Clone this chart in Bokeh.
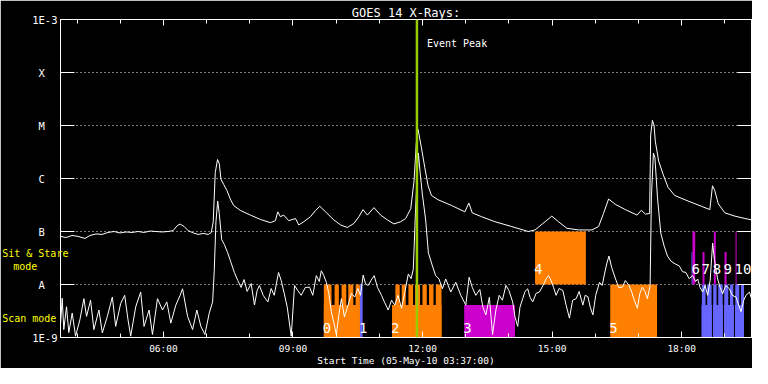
from bokeh.plotting import figure
from bokeh.models import LogAxis, LinearAxis, FixedTicker, Span, Range1d
from bokeh.core.properties import value
from bokeh.embed import file_html
from bokeh.resources import INLINE

# ---------------- data (time in decimal hours UT, 05-May-2010; flux in W/m^2) ----------------
long_time = [3.617, 3.742, 3.882, 4.020, 4.182, 4.298, 4.438, 4.577, 4.717, 4.855, 4.995, 5.135,
             5.273, 5.413, 5.552, 5.692, 5.830, 5.970, 6.108, 6.225, 6.318, 6.387, 6.480, 6.573,
             6.690, 6.805, 6.922, 7.038, 7.108, 7.153, 7.200, 7.253, 7.293, 7.332, 7.393, 7.472,
             7.548, 7.625, 7.780, 8.013, 8.245, 8.477, 8.593, 8.647, 8.708, 8.785, 8.902, 9.057,
             9.133, 9.250, 9.405, 9.522, 9.622, 9.753, 9.947, 10.102, 10.257, 10.410, 10.527, 10.620,
             10.722, 10.875, 11.030, 11.187, 11.338, 11.495, 11.610, 11.727, 11.803, 11.855, 11.897, 11.975,
             12.052, 12.128, 12.207, 12.360, 12.672, 12.980, 13.073, 13.150, 13.368, 13.677, 14.065, 14.448,
             14.605, 14.837, 14.993, 15.147, 15.342, 15.610, 15.922, 16.075, 16.190, 16.307, 16.462, 16.695,
             16.967, 17.067, 17.158, 17.258, 17.282, 17.322, 17.360, 17.390, 17.467, 17.570, 17.685, 17.838,
             18.150, 18.458, 18.652, 18.713, 18.767, 18.847, 19.000, 19.232, 19.463, 19.633]
long_flux = [8.1e-8, 7.7e-8, 8.4e-8, 8.1e-8, 7.4e-8, 8.4e-8, 9.0e-8, 8.8e-8, 9.6e-8, 1.0e-7, 9.4e-8, 9.8e-8,
             9.6e-8, 1.0e-7, 9.6e-8, 1.02e-7, 1.0e-7, 9.8e-8, 1.0e-7, 1.04e-7, 1.29e-7, 1.38e-7, 1.24e-7, 1.04e-7,
             9.4e-8, 8.8e-8, 9.2e-8, 8.8e-8, 9.6e-8, 1.53e-7, 1.29e-6, 2.28e-6, 1.9e-6, 9.7e-7, 7.8e-7, 5.9e-7,
             4.1e-7, 3.1e-7, 2.5e-7, 2.04e-7, 1.69e-7, 1.47e-7, 1.6e-7, 2.35e-7, 1.9e-7, 2.04e-7, 1.6e-7, 1.76e-7,
             1.33e-7, 1.53e-7, 1.9e-7, 2.5e-7, 2.99e-7, 2.35e-7, 1.65e-7, 1.33e-7, 1.19e-7, 1.42e-7, 1.9e-7, 2.59e-7,
             2.04e-7, 2.82e-7, 2.04e-7, 1.65e-7, 1.39e-7, 1.53e-7, 1.76e-7, 2.7e-7, 9.0e-7, 4.64e-6, 8.4e-6, 3.75e-6,
             1.6e-6, 7.3e-7, 4.78e-7, 3.97e-7, 3.1e-7, 2.35e-7, 3.44e-7, 2.25e-7, 1.9e-7, 1.53e-7, 1.24e-7, 1.0e-7,
             1.07e-7, 1.53e-7, 1.95e-7, 1.53e-7, 1.15e-7, 1.07e-7, 1.07e-7, 1.24e-7, 2.18e-7, 4.1e-7, 3.26e-7, 2.59e-7,
             2.04e-7, 2.52e-7, 2.13e-7, 2.18e-7, 6.6e-6, 1.25e-5, 1.0e-5, 5.0e-6, 2.13e-6, 1.2e-6, 6.8e-7, 4.78e-7,
             3.75e-7, 2.99e-7, 2.59e-7, 7.3e-7, 5.9e-7, 3.34e-7, 2.25e-7, 1.95e-7, 1.76e-7, 1.65e-7]

short_time = [3.617, 3.656, 3.693, 3.756, 3.809, 3.888, 3.965, 4.065, 4.158, 4.220, 4.313, 4.390,
              4.506, 4.585, 4.701, 4.817, 4.894, 5.010, 5.103, 5.180, 5.242, 5.358, 5.474, 5.551,
              5.667, 5.746, 5.862, 5.979, 6.078, 6.171, 6.287, 6.387, 6.443, 6.559, 6.675, 6.774,
              6.867, 6.960, 7.060, 7.139, 7.177, 7.216, 7.256, 7.293, 7.349, 7.409, 7.488, 7.565,
              7.642, 7.721, 7.799, 7.868, 7.938, 8.031, 8.108, 8.170, 8.223, 8.309, 8.418, 8.495,
              8.565, 8.665, 8.727, 8.797, 8.866, 8.959, 9.036, 9.110, 9.191, 9.284, 9.384, 9.458,
              9.540, 9.609, 9.656, 9.714, 9.772, 9.830, 9.888, 9.946, 10.004, 10.062, 10.120, 10.190,
              10.276, 10.353, 10.429, 10.504, 10.562, 10.625, 10.678, 10.741, 10.806, 10.880, 10.957, 11.050,
              11.119, 11.205, 11.282, 11.358, 11.433, 11.514, 11.584, 11.670, 11.735, 11.786, 11.840, 11.903,
              11.944, 11.995, 12.072, 12.135, 12.228, 12.304, 12.381, 12.460, 12.537, 12.653, 12.769, 12.885,
              13.001, 13.078, 13.152, 13.233, 13.326, 13.396, 13.466, 13.547, 13.621, 13.698, 13.775, 13.849,
              13.931, 14.000, 14.086, 14.140, 14.203, 14.256, 14.319, 14.372, 14.435, 14.488, 14.551, 14.628,
              14.704, 14.790, 14.860, 14.918, 14.976, 15.034, 15.092, 15.162, 15.248, 15.324, 15.401, 15.475,
              15.557, 15.626, 15.712, 15.766, 15.828, 15.882, 15.944, 16.009, 16.098, 16.160, 16.213, 16.264,
              16.316, 16.381, 16.469, 16.544, 16.625, 16.695, 16.781, 16.846, 16.904, 16.974, 17.032, 17.090,
              17.148, 17.206, 17.269, 17.299, 17.346, 17.381, 17.439, 17.516, 17.595, 17.672, 17.748, 17.846,
              17.944, 18.020, 18.097, 18.172, 18.253, 18.323, 18.369, 18.427, 18.485, 18.543, 18.601, 18.659,
              18.717, 18.757, 18.799, 18.833, 18.891, 18.949, 19.019, 19.105, 19.170, 19.258, 19.321, 19.374,
              19.437, 19.490, 19.569, 19.617]
short_flux = [1.74e-9, 5.5e-9, 1.41e-9, 3.8e-9, 1.24e-9, 2.9e-9, 1.06e-9, 2.15e-9, 5.4e-9, 2.5e-9, 5.05e-9, 1.41e-9,
              3.3e-9, 1.22e-9, 2.5e-9, 5.8e-9, 1.62e-9, 4.4e-9, 6.25e-9, 2.15e-9, 1.06e-9, 3.8e-9, 7.2e-9, 1.62e-9,
              3.3e-9, 1.14e-9, 5.4e-9, 3.3e-9, 4.7e-9, 1.87e-9, 4.08e-9, 6.25e-9, 8.3e-9, 2.5e-9, 1.41e-9, 3.3e-9,
              1.62e-9, 1.14e-9, 2.87e-9, 4.7e-9, 1.82e-8, 1.53e-7, 3.75e-7, 2.18e-7, 7.0e-8, 5.7e-8, 3.97e-8, 2.59e-8,
              1.69e-8, 1.19e-8, 8.8e-9, 1.24e-8, 7.4e-9, 1.04e-8, 4.1e-9, 7.7e-9, 9.6e-9, 6.25e-9, 4.7e-9, 8.4e-9,
              6.25e-9, 1.69e-8, 1.19e-8, 6.8e-9, 3.75e-9, 1.06e-9, 9.6e-9, 7.7e-9, 6.25e-9, 8.8e-9, 8.9e-9, 6.25e-9,
              1.47e-8, 1.14e-8, 1.82e-8, 1.47e-8, 1.1e-8, 6.8e-9, 3.07e-9, 1.9e-9, 1.14e-9, 2.67e-9, 5.4e-9, 2.45e-9,
              4.08e-9, 6.8e-9, 5.8e-9, 8.4e-9, 6.25e-9, 1.51e-8, 1.04e-8, 9.6e-9, 1.19e-8, 1.47e-8, 8.8e-9, 6.25e-9,
              4.64e-9, 3.3e-9, 5.05e-9, 4.08e-9, 6.25e-9, 3.55e-9, 6.8e-9, 1.58e-8, 1.29e-8, 1.95e-8, 2.9e-7, 3.03e-6,
              1.29e-6, 5.1e-7, 1.65e-7, 3.97e-8, 2.25e-8, 1.47e-8, 1.27e-8, 8.3e-9, 1.27e-8, 7.2e-9, 1.1e-8, 6.25e-9,
              4.08e-9, 1.37e-8, 8.8e-9, 6.25e-9, 8.07e-9, 3.75e-9, 2.67e-9, 5.74e-9, 1.14e-9, 3.3e-9, 6.25e-9, 5.05e-9,
              9.6e-9, 7.7e-9, 4.7e-9, 2.45e-9, 1.62e-9, 3.75e-9, 5.4e-9, 7.4e-9, 8.3e-9, 5.74e-9, 4.7e-9, 6.8e-9,
              7.2e-9, 9.6e-9, 1.27e-8, 1.47e-8, 1.19e-8, 8.8e-9, 6.25e-9, 8.4e-9, 7.7e-9, 4.08e-9, 2.32e-9, 5.05e-9,
              5.4e-9, 7.4e-9, 4.08e-9, 6.25e-9, 5.9e-9, 3.75e-9, 2.67e-9, 6.25e-9, 1.1e-8, 9.6e-9, 1.58e-8, 2.45e-8,
              3.44e-8, 2.07e-8, 1.27e-8, 8.8e-9, 8.9e-9, 1.19e-8, 9.6e-9, 7.1e-9, 5.05e-9, 3.55e-9, 6.8e-9, 8.9e-9,
              7.4e-9, 5.4e-9, 9.6e-9, 4.45e-7, 3.03e-6, 2.45e-6, 4.45e-7, 9.3e-8, 5.27e-8, 3.44e-8, 2.78e-8, 2.45e-8,
              2.25e-8, 1.74e-8, 1.69e-8, 1.29e-8, 1.47e-8, 1.14e-8, 1.27e-8, 8.8e-9, 7.2e-9, 9.6e-9, 6.25e-9, 1.19e-8,
              6.05e-8, 2.99e-8, 1.82e-8, 1.27e-8, 8.8e-9, 6.7e-9, 9.6e-9, 8.3e-9, 6.25e-9, 5.8e-9, 4.08e-9, 3.07e-9,
              5.05e-9, 6.25e-9, 7.2e-9, 5.4e-9]

event_peak = 11.87  # 11:52 UT

# observation blocks (kind: O = orange raster, M = magenta, B = blue)
scan_base_left = [9.714, 11.293, 12.964, 16.346, 18.460, 18.723, 18.979, 19.234]
scan_base_right = [10.550, 12.439, 14.141, 17.430, 18.700, 18.956, 19.211, 19.443]
scan_base_top = [4.1e-9, 4.1e-9, 4.1e-9, 1e-8, 4.1e-9, 4.1e-9, 4.1e-9, 4.1e-9]
scan_base_kind = ["O", "O", "M", "O", "B", "B", "B", "B"]

tooth_left = [9.714, 9.963, 10.125, 10.280, 10.450, 10.550,
              11.371, 11.518, 11.673, 11.826, 11.998, 12.151, 12.307,
              18.467, 18.590, 18.730, 18.846, 18.986, 19.118, 19.241, 19.373]
tooth_right = [9.893, 10.062, 10.234, 10.397, 10.550, 10.612,
               11.471, 11.611, 11.780, 11.942, 12.098, 12.253, 12.439,
               18.553, 18.693, 18.809, 18.949, 19.079, 19.195, 19.334, 19.443]
tooth_kind = ["O", "O", "O", "O", "O", "B",
              "O", "O", "O", "O", "O", "O", "O",
              "B", "B", "B", "B", "B", "B", "B", "B"]

stare_left = [14.605, 18.227, 18.250, 18.482, 18.744, 18.992, 19.248]
stare_right = [15.782, 18.250, 18.313, 18.529, 18.791, 19.039, 19.271]
stare_top = [1e-7, 4.1e-8, 1e-7, 4.1e-8, 1e-7, 4.1e-8, 1e-7]
stare_kind = ["O", "B", "M", "M", "M", "M", "M"]

obs_labels = ["0", "1", "2", "3", "4", "5", "6", "7", "8", "9", "10"]
obs_label_x = [9.714, 10.550, 11.293, 12.964, 14.605, 16.346, 18.250, 18.482, 18.744, 18.992, 19.248]
obs_label_y = [1.5e-9, 1.5e-9, 1.5e-9, 1.5e-9, 2.0e-8, 1.5e-9, 2.0e-8, 2.0e-8, 2.0e-8, 2.0e-8, 2.0e-8]

# observing-mode captions (placed by flux band, left of the axis)
mode_captions = ["Sit & Stare", "mode", "Scan mode"]
mode_caption_y = [3.83e-8, 2.15e-8, 2.3e-9]

y_ticks = [1e-9, 1e-8, 1e-7, 1e-6, 1e-5, 1e-4, 1e-3]
y_tick_labels = ["1E-9", "A", "B", "C", "M", "X", "1E-3"]
x_major = [6, 9, 12, 15, 18]
x_major_labels = ["06:00", "09:00", "12:00", "15:00", "18:00"]
x_minor = [4, 5, 6, 7, 8, 9, 10, 11, 12, 13, 14, 15, 16, 17, 18, 19]

x_start = 3 + 37 / 60
x_end = x_start + 16

title_text = "GOES 14 X-Rays:"
x_title = "Start Time (05-May-10 03:37:00)"

# ---------------- styling ----------------
KIND_COLOR = {"O": "#ff8000", "M": "#cc00cc", "B": "#6666ff"}
FONT = "DejaVu Sans Mono"

p = figure(width=752, height=368, output_backend="svg", toolbar_location=None,
           x_range=Range1d(x_start, x_end), y_range=Range1d(1e-9, 1e-3), y_axis_type="log",
           min_border_left=60, min_border_right=1, min_border_top=19, min_border_bottom=25,
           background_fill_color="black", border_fill_color="black",
           outline_line_color="white", outline_line_width=1)

p.title.text = title_text
p.title.align = "center"
p.title.text_font = FONT
p.title.text_font_size = "12px"
p.title.text_font_style = "normal"
p.title.text_color = "white"
p.title.standoff = 0
p.title.offset = -3

# blocks
p.quad(left=scan_base_left, right=scan_base_right, bottom=[1e-9] * len(scan_base_left), top=scan_base_top,
       fill_color=[KIND_COLOR[k] for k in scan_base_kind], line_color=None)
p.quad(left=tooth_left, right=tooth_right, bottom=[1e-9] * len(tooth_left), top=[1e-8] * len(tooth_left),
       fill_color=[KIND_COLOR[k] for k in tooth_kind], line_color=None)
p.quad(left=stare_left, right=stare_right, bottom=[1e-8] * len(stare_left), top=stare_top,
       fill_color=[KIND_COLOR[k] for k in stare_kind], line_color=None)

# curves
p.line(long_time, long_flux, line_color="white", line_width=1)
p.line(short_time, short_flux, line_color="white", line_width=1)

# block labels
p.text(x=obs_label_x, y=obs_label_y, text=obs_labels, text_color="white",
       text_font=value(FONT), text_font_size="14px", text_baseline="middle", x_offset=-1,
       level="overlay")

# event peak line and its label
p.add_layout(Span(location=event_peak, dimension="height", line_color="#99cc00", line_width=2.5))
p.text(x=[event_peak], y=[3.6e-4], text=["Event Peak"], text_color="white",
       text_font=value(FONT), text_font_size="10px", text_baseline="middle", x_offset=10)

# mode captions in the left margin
p.text(x=[x_start] * 3, y=mode_caption_y, text=mode_captions, text_color="#ffff00",
       text_font=value(FONT), text_font_size="10px", text_baseline="middle",
       x_offset=[-58.3, -47.3, -58.3], level="overlay")

# axes
xt = FixedTicker(ticks=x_major, minor_ticks=x_minor)
yt = FixedTicker(ticks=y_ticks, minor_ticks=[])

xa = p.xaxis[0]
xa.ticker = xt
xa.major_label_overrides = {t: l for t, l in zip(x_major, x_major_labels)}
xa.axis_label = x_title
xa.axis_label_text_font = FONT
xa.axis_label_text_font_style = "normal"
xa.axis_label_text_font_size = "9.5px"
xa.axis_label_text_color = "white"
xa.axis_label_standoff = -2
xa.major_label_text_font = FONT
xa.major_label_text_font_size = "9.5px"
xa.major_label_text_color = "white"
xa.major_label_standoff = 5

ta = LinearAxis(ticker=xt, major_label_overrides={t: "" for t in x_major},
                major_label_text_font_size="1px", major_label_text_color=None, major_label_standoff=0)
p.add_layout(ta, "above")
for ax in (xa, ta):
    ax.major_tick_in = 6
    ax.major_tick_out = 0
    ax.minor_tick_in = 4
    ax.minor_tick_out = 0
    ax.axis_line_color = "white"
    ax.major_tick_line_color = "white"
    ax.minor_tick_line_color = "white"

ya = p.yaxis[0]
ya.ticker = yt
pad = "\u00a0\u00a0"
ya.major_label_overrides = {t: (l if l.startswith("1E") else l + pad) for t, l in zip(y_ticks, y_tick_labels)}
ya.major_label_text_font = FONT
ya.major_label_text_font_size = "10.5px"
ya.major_label_text_color = "white"
ya.major_label_standoff = 3
ra = LogAxis(ticker=yt, major_label_overrides={t: "" for t in y_ticks},
             major_label_text_font_size="6px", major_label_text_color=None, major_label_standoff=0)
p.add_layout(ra, "right")
for ax in (ya, ra):
    ax.major_tick_in = 14
    ax.major_tick_out = 0
    ax.minor_tick_in = 0
    ax.minor_tick_out = 0
    ax.axis_line_color = "white"
    ax.major_tick_line_color = "white"

p.xgrid.visible = False
p.ygrid.ticker = yt
p.ygrid.grid_line_color = "white"
p.ygrid.grid_line_dash = "1 3"
p.ygrid.grid_line_width = 1

open("out.html", "w").write(file_html(p, INLINE))
